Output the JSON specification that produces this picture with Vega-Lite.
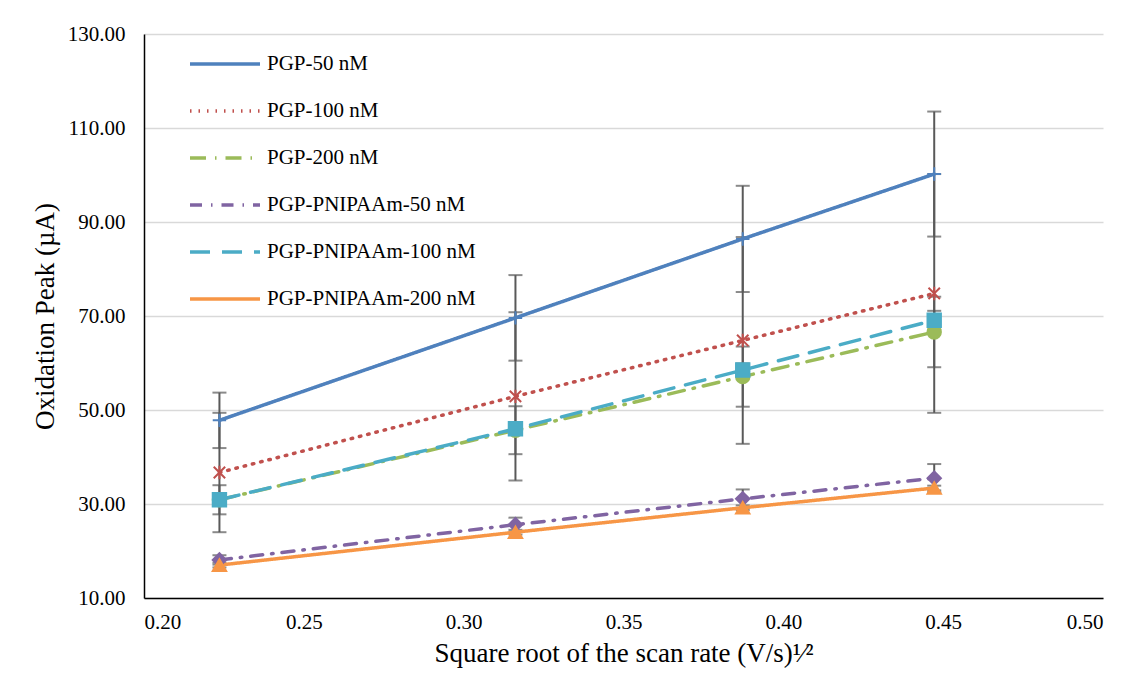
{
  "$schema": "https://vega.github.io/schema/vega-lite/v6.json",
  "width": 959,
  "height": 564,
  "autosize": "none",
  "padding": {"left": 144, "top": 34, "right": 35, "bottom": 79},
  "background": "white",
  "config": {
    "font": "Liberation Serif",
    "view": {"stroke": null},
    "axis": {"labelFont": "Liberation Serif", "titleFont": "Liberation Serif", "labelColor": "#000000", "titleColor": "#000000", "titleFontWeight": "normal"},
    "legend": {"labelFont": "Liberation Serif"}
  },
  "data": {
    "values": [
      {"series": "PGP-50 nM", "x": 0.2236, "y": 47.8, "err": 5.9},
      {"series": "PGP-50 nM", "x": 0.3162, "y": 69.6, "err": 9.1},
      {"series": "PGP-50 nM", "x": 0.3873, "y": 86.4, "err": 11.3},
      {"series": "PGP-50 nM", "x": 0.4472, "y": 100.2, "err": 13.3},
      {"series": "PGP-100 nM", "x": 0.2236, "y": 36.7, "err": 12.7},
      {"series": "PGP-100 nM", "x": 0.3162, "y": 52.9, "err": 17.9},
      {"series": "PGP-100 nM", "x": 0.3873, "y": 64.8, "err": 22.0},
      {"series": "PGP-100 nM", "x": 0.4472, "y": 74.8, "err": 25.4},
      {"series": "PGP-200 nM", "x": 0.2236, "y": 30.9, "err": 3.1},
      {"series": "PGP-200 nM", "x": 0.3162, "y": 45.7, "err": 5.1},
      {"series": "PGP-200 nM", "x": 0.3873, "y": 57.1, "err": 6.4},
      {"series": "PGP-200 nM", "x": 0.4472, "y": 66.6, "err": 7.5},
      {"series": "PGP-PNIPAAm-50 nM", "x": 0.2236, "y": 18.1, "err": 1.0},
      {"series": "PGP-PNIPAAm-50 nM", "x": 0.3162, "y": 25.6, "err": 1.5},
      {"series": "PGP-PNIPAAm-50 nM", "x": 0.3873, "y": 31.1, "err": 2.0},
      {"series": "PGP-PNIPAAm-50 nM", "x": 0.4472, "y": 35.5, "err": 3.0},
      {"series": "PGP-PNIPAAm-100 nM", "x": 0.2236, "y": 30.9, "err": 0.8},
      {"series": "PGP-PNIPAAm-100 nM", "x": 0.3162, "y": 46.0, "err": 0.8},
      {"series": "PGP-PNIPAAm-100 nM", "x": 0.3873, "y": 58.5, "err": 1.4},
      {"series": "PGP-PNIPAAm-100 nM", "x": 0.4472, "y": 69.1, "err": 2.0},
      {"series": "PGP-PNIPAAm-200 nM", "x": 0.2236, "y": 17.0, "err": 0.5},
      {"series": "PGP-PNIPAAm-200 nM", "x": 0.3162, "y": 24.0, "err": 0.5},
      {"series": "PGP-PNIPAAm-200 nM", "x": 0.3873, "y": 29.2, "err": 0.5},
      {"series": "PGP-PNIPAAm-200 nM", "x": 0.4472, "y": 33.4, "err": 0.5}
    ]
  },
  "transform": [
    {"calculate": "datum.y - datum.err", "as": "lo"},
    {"calculate": "datum.y + datum.err", "as": "hi"}
  ],
  "encoding": {
    "x": {
      "field": "x", "type": "quantitative",
      "scale": {"domain": [0.2, 0.5], "nice": false, "zero": false},
      "axis": {
        "values": [0.2, 0.25, 0.3, 0.35, 0.4, 0.45, 0.5],
        "format": ".2f", "grid": false, "ticks": false,
        "domainColor": "#000000", "domainWidth": 1.5,
        "labelFontSize": 21, "labelPadding": 13,
        "title": "Square root of the scan rate (V/s)¹⁄²",
        "titleFontSize": 27, "titlePadding": 8
      }
    }
  },
  "resolve": {"scale": {"shape": "independent", "fill": "independent", "stroke": "independent"}, "legend": {"shape": "independent", "fill": "independent", "stroke": "independent"}},
  "layer": [
    {
      "mark": {"type": "rule", "color": "#595959", "strokeWidth": 2},
      "encoding": {
        "y": {"field": "lo", "type": "quantitative", "scale": {"domain": [10, 130], "nice": false, "zero": false},
          "axis": {
            "values": [10, 30, 50, 70, 90, 110, 130], "format": ".2f",
            "grid": true, "gridColor": "#D9D9D9", "gridWidth": 1.5, "ticks": false,
            "domainColor": "#000000", "domainWidth": 1.5,
            "labelFontSize": 21, "labelPadding": 19,
            "title": "Oxidation Peak (µA)", "titleFontSize": 27, "titlePadding": 8
          }},
        "y2": {"field": "hi"}
      }
    },
    {
      "mark": {"type": "tick", "orient": "horizontal", "color": "#595959", "thickness": 2, "size": 14},
      "encoding": {"y": {"field": "lo", "type": "quantitative"}}
    },
    {
      "mark": {"type": "tick", "orient": "horizontal", "color": "#595959", "thickness": 2, "size": 14},
      "encoding": {"y": {"field": "hi", "type": "quantitative"}}
    },
    {
      "mark": {"type": "line", "strokeWidth": 3.5, "strokeCap": "round"},
      "encoding": {
        "y": {"field": "y", "type": "quantitative"},
        "color": {
          "field": "series", "type": "nominal",
          "scale": {
            "domain": ["PGP-50 nM", "PGP-100 nM", "PGP-200 nM", "PGP-PNIPAAm-50 nM", "PGP-PNIPAAm-100 nM", "PGP-PNIPAAm-200 nM"],
            "range": ["#4F81BD", "#C0504D", "#9BBB59", "#8064A2", "#4BACC6", "#F79646"]
          },
          "legend": {
            "orient": "none", "legendX": 44, "legendY": -7, "title": null,
            "symbolType": "stroke", "symbolSize": 4900, "symbolStrokeWidth": 3.5,
            "labelFontSize": 21, "labelOffset": 5, "rowPadding": -24.2, "padding": 0, "labelColor": "#000000", "labelLimit": 400
          }
        },
        "strokeDash": {
          "field": "series", "type": "nominal",
          "scale": {
            "domain": ["PGP-50 nM", "PGP-100 nM", "PGP-200 nM", "PGP-PNIPAAm-50 nM", "PGP-PNIPAAm-100 nM", "PGP-PNIPAAm-200 nM"],
            "range": [[1, 0], [1.5, 7], [16, 9, 1.5, 9], [12, 9, 1.5, 9], [20, 12], [1, 0]]
          },
          "legend": {
            "orient": "none", "legendX": 44, "legendY": -7, "title": null,
            "symbolType": "stroke", "symbolSize": 4900, "symbolStrokeWidth": 3.5,
            "labelFontSize": 21, "labelOffset": 5, "rowPadding": -24.2, "padding": 0, "labelColor": "#000000", "labelLimit": 400
          }
        }
      }
    },
    {
      "mark": {"type": "point", "filled": true, "strokeWidth": 2, "opacity": 1},
      "encoding": {
        "y": {"field": "y", "type": "quantitative"},
        "fill": {
          "field": "series", "type": "nominal",
          "scale": {
            "domain": ["PGP-50 nM", "PGP-100 nM", "PGP-200 nM", "PGP-PNIPAAm-50 nM", "PGP-PNIPAAm-100 nM", "PGP-PNIPAAm-200 nM"],
            "range": ["#4F81BD", "#C0504D", "#9BBB59", "#8064A2", "#4BACC6", "#F79646"]
          },
          "legend": null
        },
        "stroke": {
          "field": "series", "type": "nominal",
          "scale": {
            "domain": ["PGP-50 nM", "PGP-100 nM", "PGP-200 nM", "PGP-PNIPAAm-50 nM", "PGP-PNIPAAm-100 nM", "PGP-PNIPAAm-200 nM"],
            "range": ["#4F81BD", "#C0504D", "#9BBB59", "#8064A2", "#4BACC6", "#F79646"]
          },
          "legend": null
        },
        "shape": {
          "field": "series", "type": "nominal",
          "scale": {
            "domain": ["PGP-50 nM", "PGP-100 nM", "PGP-200 nM", "PGP-PNIPAAm-50 nM", "PGP-PNIPAAm-100 nM", "PGP-PNIPAAm-200 nM"],
            "range": ["M-1,0H1M0,-1V1", "M-0.85,-0.85L0.85,0.85M-0.85,0.85L0.85,-0.85M0,-1V1", "circle", "diamond", "square", "triangle-up"]
          },
          "legend": null
        },
        "size": {"value": 180}
      }
    }
  ]
}
